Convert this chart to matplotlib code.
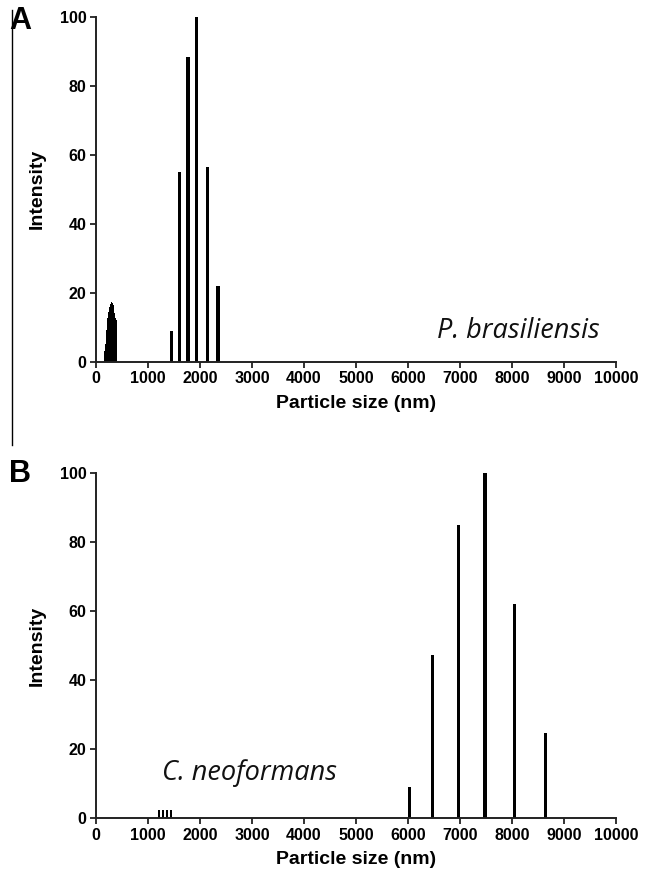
import matplotlib
matplotlib.use("Agg")
import matplotlib.pyplot as plt
from matplotlib.lines import Line2D

# ---- data ----
size_a_small = [160, 170, 180, 190, 200, 210, 220, 230, 240, 250, 260, 270,
                280, 290, 300, 310, 320, 330, 340, 350, 360, 370, 380, 390]
int_a_small = [1, 3, 5, 7, 9, 11, 12.5, 13.8, 14.5, 15.2, 15.8, 16.3,
               16.8, 17.1, 17.3, 17.2, 16.9, 16.3, 15.2, 14, 13, 12.5, 12.2, 12]
size_a = [1450, 1600, 1770, 1935, 2140, 2345]
int_a = [8.8, 55.1, 88.5, 100, 56.4, 22.0]

size_b_small = [1220, 1290, 1360, 1440]
int_b_small = [2.3, 2.3, 2.3, 2.3]
size_b = [6025, 6475, 6970, 7480, 8045, 8650]
int_b = [9.2, 47.3, 85.0, 100, 62.1, 24.6]

x_ticks = [0, 1000, 2000, 3000, 4000, 5000, 6000, 7000, 8000, 9000, 10000]
y_ticks = [0, 20, 40, 60, 80, 100]

W, H = 646, 881
fig = plt.figure(figsize=(W / 100, H / 100), dpi=100)
fig.patch.set_facecolor("white")

lab_font = "Liberation Sans"


def style(ax):
    ax.set_xlim(0, 10000)
    ax.set_ylim(0, 100)
    ax.set_xticks(x_ticks)
    ax.set_yticks(y_ticks)
    ax.set_xticklabels([str(t) for t in x_ticks])
    ax.set_yticklabels([str(t) for t in y_ticks])
    for s in ["top", "right"]:
        ax.spines[s].set_visible(False)
    for s in ["left", "bottom"]:
        ax.spines[s].set_linewidth(1.4)
        ax.spines[s].set_color("#222222")
        ax.spines[s].set_clip_on(False)
    ax.tick_params(axis="both", direction="out", length=4, width=1.3,
                   color="#222222", labelsize=11.5, pad=3)
    for lab in ax.get_xticklabels() + ax.get_yticklabels():
        lab.set_fontfamily(lab_font)
        lab.set_fontweight("bold")
    ax.set_xlabel("Particle size (nm)", fontsize=14, fontweight="bold",
                  family=lab_font, labelpad=6)
    ax.set_ylabel("Intensity", fontsize=14, fontweight="bold",
                  family=lab_font, labelpad=10)


axA = fig.add_axes([96 / W, 1 - 361.5 / H, 520 / W, 344.5 / H])
axA.bar(size_a_small, int_a_small, width=14, color="black", linewidth=0)
axA.bar(size_a, int_a, width=60, color="black", linewidth=0)
style(axA)
axA.text(6550, 8.8, "P. brasiliensis", fontsize=19.5, style="italic",
         family="Open Sans", ha="left", va="center", color="#111111")

axB = fig.add_axes([96 / W, 1 - 818.3 / H, 520 / W, 345.3 / H])
axB.bar(size_b_small, int_b_small, width=40, color="black", linewidth=0)
axB.bar(size_b, int_b, width=60, color="black", linewidth=0)
style(axB)
axB.text(1270, 13, "C. neoformans", fontsize=19.5, style="italic",
         family="Open Sans", ha="left", va="center", color="#111111")

fig.text(9 / W, 1 - 21 / H, "A", fontsize=22, fontweight="bold",
         family=lab_font, ha="left", va="center")
fig.text(9 / W, 1 - 474 / H, "B", fontsize=22, fontweight="bold",
         family=lab_font, ha="left", va="center")

fig.add_artist(Line2D([11.5 / W, 11.5 / W], [1 - 10 / H, 1 - 445 / H],
                      color="black", linewidth=1.0))

fig.savefig("out.png", dpi=100, facecolor="white")
